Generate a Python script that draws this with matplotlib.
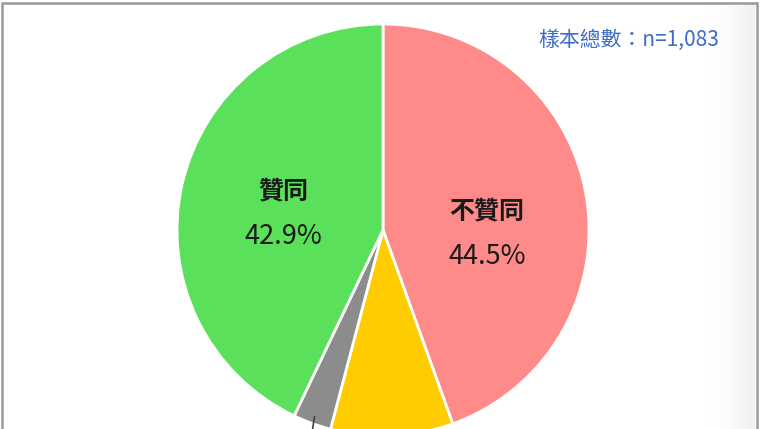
import numpy as np
import matplotlib
matplotlib.use("Agg")
import matplotlib.pyplot as plt
from matplotlib.patches import Rectangle

plt.rcParams['font.family'] = ['Noto Sans CJK TC', 'DejaVu Sans']

# data (clockwise from top)
categories = ['不贊同', '無意見', '不知道', '贊同']
values = [44.5, 9.6, 3.0, 42.9]
colors = ['#FF8A8A', '#FFCC00', '#8C8C8C', '#5BE05B']
sample_note = '樣本總數：n=1,083'

W, H = 761, 429
fig = plt.figure(figsize=(W / 100, H / 100), dpi=100)
ax = fig.add_axes([0, 0, 1, 1])
ax.set_xlim(0, W)
ax.set_ylim(0, H)
ax.set_aspect('equal')
ax.axis('off')

# right-side shadow gradient of the frame
grad = np.linspace(0, 1, 60)[None, :] ** 2
ax.imshow(grad, extent=(698, 755, -5, 426), cmap='Greys', vmin=0, vmax=8,
          aspect='auto', zorder=0)

# frame
ax.add_patch(Rectangle((2, -10), 754.5, 436, fill=False, edgecolor='#999999',
                       linewidth=1.8, zorder=1))

cx, cy, R = 383, H - 230, 206
wedges, _ = ax.pie(values, colors=colors, startangle=90, counterclock=False,
                   center=(cx, cy), radius=R, frame=True,
                   wedgeprops=dict(edgecolor='white', linewidth=2))
for w in wedges:
    w.set_zorder(2)
ax.set_xlim(0, W)
ax.set_ylim(0, H)
ax.axis('off')

# labels for the two large slices
label_pos = {0: (104, -3), 3: (-100, 17)}
for i, (dx, dy) in label_pos.items():
    x, y = cx + dx, cy + dy
    ax.text(x, y + 22, categories[i], ha='center', va='center', fontsize=18,
            color='#1A1A1A', fontweight='bold', zorder=3)
    ax.text(x, y - 24, f'{values[i]:.1f}%', ha='center', va='center',
            fontsize=19.5, color='#1A1A1A', zorder=3)

# leader line for the gray slice (its label lies below the visible area)
cum = np.cumsum([0] + values)
mid = np.deg2rad(90 - (cum[2] + values[2] / 2) * 3.6)
x0, y0 = cx + 0.965 * R * np.cos(mid), cy + 0.965 * R * np.sin(mid)
ax.plot([x0, x0 - 3], [y0, y0 - 20], color='#404040', linewidth=1.2, zorder=3)

ax.text(629, H - 40, sample_note, ha='center', va='center', fontsize=15,
        color='#3D6CC6', zorder=3)

fig.savefig('out.png', dpi=100)
